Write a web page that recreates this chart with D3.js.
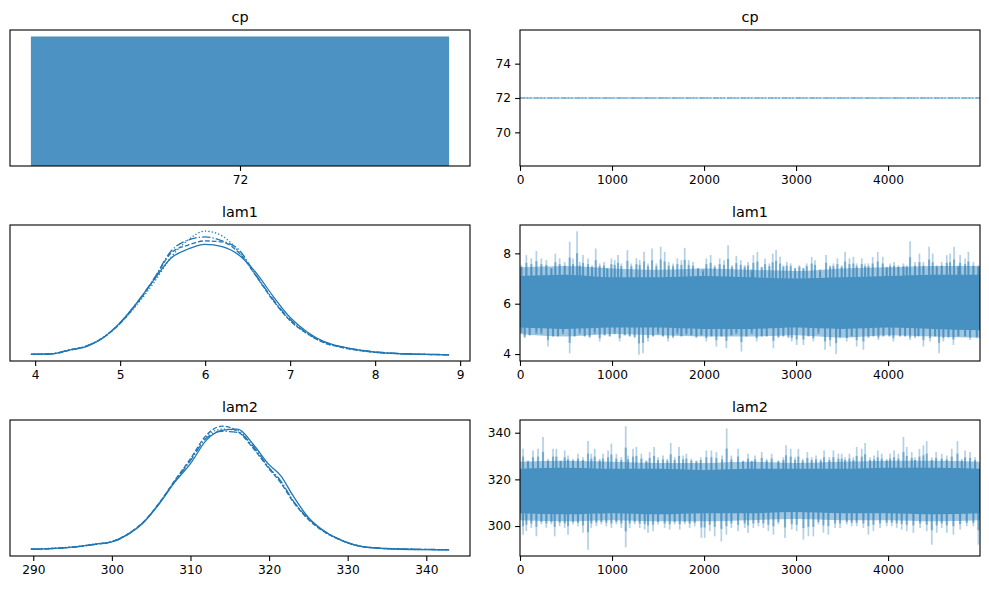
<!DOCTYPE html>
<html>
<head>
<meta charset="utf-8">
<script src="https://cdn.jsdelivr.net/npm/d3@7"></script>
<style>
body { margin: 0; background: #fff; }
text { font-family: "DejaVu Sans", sans-serif; }
</style>
</head>
<body>
<script>
// ---- values ----
var nDraws = 5000;
var coreStep = 500;

// cp: every draw of every chain is 72
var cpValue = 72;
var cpChains = [72, 72, 72, 72];
var cpHistTicks = [72];
var cpTraceTicks = [70, 72, 74];

// lam1 posterior densities (one per chain)
var lam1Grid = [3.95, 4.2, 4.4, 4.6, 4.8, 5.0, 5.2, 5.4, 5.6, 5.8, 6.0, 6.2, 6.4, 6.6, 6.8, 7.0, 7.2, 7.4, 7.6, 7.8, 8.0, 8.3, 8.6, 8.87];
var lam1Solid = [0.003, 0.006, 0.026, 0.045, 0.095, 0.179, 0.291, 0.418, 0.538, 0.588, 0.614, 0.601, 0.553, 0.455, 0.325, 0.207, 0.127, 0.073, 0.045, 0.028, 0.015, 0.006, 0.002, 0.000];
var lam1Dashed = [0.003, 0.006, 0.025, 0.048, 0.095, 0.174, 0.286, 0.420, 0.566, 0.610, 0.633, 0.627, 0.566, 0.437, 0.302, 0.190, 0.118, 0.067, 0.042, 0.025, 0.014, 0.006, 0.002, 0.000];
var lam1Dotted = [0.003, 0.007, 0.028, 0.048, 0.098, 0.174, 0.280, 0.403, 0.543, 0.638, 0.687, 0.661, 0.571, 0.437, 0.302, 0.190, 0.118, 0.067, 0.042, 0.025, 0.014, 0.006, 0.002, 0.000];
var lam1DashDot = [0.003, 0.006, 0.027, 0.048, 0.095, 0.179, 0.291, 0.426, 0.577, 0.638, 0.655, 0.633, 0.582, 0.442, 0.308, 0.196, 0.120, 0.070, 0.045, 0.028, 0.017, 0.007, 0.003, 0.001];
var lam1DensTicks = [4, 5, 6, 7, 8, 9];

// lam1 trace: tips of the visible upward / downward excursions (draw, value)
var lam1UpIt = [15, 69, 123, 178, 232, 286, 341, 384, 431, 486, 540, 576, 620, 649, 685, 739, 783, 823, 866, 913, 949, 993, 1029, 1065, 1101, 1167, 1210, 1265, 1301, 1348, 1391, 1435, 1482, 1529, 1572, 1616, 1663, 1710, 1754, 1790, 1833, 1880, 1935, 1989, 2025, 2072, 2116, 2170, 2217, 2261, 2304, 2351, 2399, 2442, 2478,
                2518, 2536, 2580, 2627, 2663, 2710, 2746, 2783, 2826, 2862, 2899, 2942, 2989, 3036, 3080, 3116, 3170, 3206, 3261, 3326, 3370, 3406, 3449, 3496, 3533, 3580, 3623, 3659, 3714, 3750, 3786, 3833, 3888, 3942, 3985, 4022, 4065, 4112, 4167, 4203, 4239, 4293, 4341, 4384, 4446, 4485, 4529, 4583, 4638, 4674, 4717, 4764, 4783, 4837, 4873, 4927, 4982];
var lam1UpV = [7.53, 7.93, 7.80, 8.09, 7.80, 7.73, 7.40, 7.99, 7.80, 7.66, 8.46, 7.80, 8.88, 7.66, 7.93, 7.80, 7.53, 8.19, 7.60, 7.66, 7.40, 7.80, 7.73, 7.93, 7.60, 8.13, 7.60, 7.80, 7.73, 8.06, 7.60, 8.19, 7.60, 8.26, 8.06, 7.66, 7.60, 7.80, 7.73, 8.22, 7.73, 7.66, 7.40, 7.27, 7.80, 7.93, 7.53, 7.80, 7.73, 8.32, 7.53, 7.90, 7.73, 7.53, 7.66,
               7.27, 7.93, 8.06, 7.47, 7.80, 7.60, 7.99, 8.13, 7.86, 7.53, 7.66, 7.60, 7.40, 7.53, 7.40, 7.60, 7.86, 7.73, 7.27, 7.93, 7.53, 7.60, 7.80, 7.53, 8.06, 7.80, 7.86, 7.60, 7.80, 7.60, 7.60, 7.86, 8.06, 7.86, 7.47, 7.60, 7.66, 7.53, 7.60, 7.53, 8.48, 7.66, 7.99, 7.66, 8.26, 7.99, 7.53, 7.66, 7.93, 7.99, 8.26, 7.53, 7.93, 7.80, 8.06, 7.66, 7.53];
var lam1DnIt = [15, 51, 105, 178, 232, 304, 359, 413, 467, 540, 594, 649, 703, 757, 812, 866, 920, 975, 1029, 1083, 1138, 1192, 1246, 1293, 1337, 1391, 1446, 1500, 1554, 1609, 1663, 1710, 1754, 1808, 1862, 1917, 1971, 2025, 2080, 2134, 2188, 2243, 2297, 2351, 2406, 2460,
                2518, 2572, 2627, 2681, 2754, 2808, 2862, 2917, 2953, 3007, 3080, 3134, 3188, 3243, 3315, 3370, 3435, 3478, 3551, 3605, 3659, 3732, 3786, 3841, 3895, 3949, 4014, 4058, 4130, 4185, 4239, 4293, 4330, 4384, 4456, 4511, 4554, 4601, 4656, 4710, 4764, 4837, 4891, 4964];
var lam1DnV = [5.02, 4.63, 4.76, 4.89, 4.89, 4.30, 4.69, 4.69, 4.89, 4.03, 4.69, 4.89, 4.69, 4.63, 4.89, 4.50, 4.76, 4.69, 4.89, 4.50, 4.76, 4.69, 4.63, 3.97, 4.03, 4.50, 4.69, 4.89, 4.69, 4.50, 4.63, 4.87, 4.69, 4.83, 4.76, 4.63, 4.76, 4.50, 4.69, 4.30, 4.69, 4.23, 4.76, 4.89, 4.10, 4.69,
               4.89, 4.50, 4.69, 4.69, 4.23, 4.63, 4.69, 4.63, 4.50, 4.36, 4.36, 4.69, 4.50, 4.89, 4.17, 4.30, 4.00, 4.63, 4.50, 4.69, 4.30, 4.17, 4.63, 4.69, 4.56, 4.69, 4.69, 4.50, 4.69, 4.69, 4.56, 4.63, 4.69, 4.30, 4.50, 4.69, 4.03, 4.50, 4.63, 4.36, 4.69, 4.69, 4.56, 4.63];
// edges of the dense band and of its lighter fringe, every 500 draws
var lam1CoreHi = [7.1, 7.15, 7.05, 7.05, 7.1, 7.05, 7.0, 7.05, 7.1, 7.15, 7.15];
var lam1CoreLo = [5.05, 5.0, 5.05, 5.05, 5.0, 5.0, 5.05, 5.0, 5.05, 5.0, 4.95];
var lam1FringeHi = [7.45, 7.5, 7.4, 7.35, 7.4, 7.35, 7.3, 7.4, 7.45, 7.5, 7.5];
var lam1FringeLo = [4.8, 4.7, 4.8, 4.75, 4.7, 4.7, 4.75, 4.65, 4.75, 4.7, 4.65];
var lam1TraceTicks = [4, 6, 8];

// lam2 posterior densities
var lam2Grid = [289.7, 292, 295, 298, 300, 302, 304, 306, 308, 310, 312, 314, 316, 318, 320, 321.5, 323, 325, 327, 329, 332, 336, 340, 342.9];
var lam2Solid = [0.0003, 0.0006, 0.0013, 0.0029, 0.0040, 0.0076, 0.0136, 0.0229, 0.0339, 0.0432, 0.0549, 0.0599, 0.0605, 0.0528, 0.0427, 0.0371, 0.0274, 0.0162, 0.0094, 0.0051, 0.0015, 0.0004, 0.0001, 0];
var lam2Dashed = [0.0003, 0.0005, 0.0013, 0.0028, 0.0041, 0.0079, 0.0140, 0.0234, 0.0348, 0.0457, 0.0574, 0.0620, 0.0594, 0.0508, 0.0406, 0.0335, 0.0244, 0.0152, 0.0091, 0.0051, 0.0016, 0.0005, 0.0002, 0.0001];
var lam2Dotted = [0.0003, 0.0007, 0.0015, 0.0030, 0.0042, 0.0079, 0.0137, 0.0234, 0.0345, 0.0452, 0.0569, 0.0605, 0.0599, 0.0513, 0.0411, 0.0340, 0.0249, 0.0155, 0.0091, 0.0050, 0.0015, 0.0004, 0.0001, 0];
var lam2DashDot = [0.0003, 0.0006, 0.0013, 0.0028, 0.0040, 0.0076, 0.0137, 0.0231, 0.0343, 0.0447, 0.0559, 0.0594, 0.0589, 0.0518, 0.0411, 0.0345, 0.0249, 0.0157, 0.0094, 0.0052, 0.0016, 0.0005, 0.0002, 0.0001];
var lam2DensTicks = [290, 300, 310, 320, 330, 340];

// lam2 trace tips
var lam2UpIt = [33, 87, 141, 196, 250, 304, 359, 395, 442, 486, 522, 576, 630, 685, 739, 775, 812, 866, 902, 957, 993, 1047, 1101, 1149, 1174, 1228, 1265, 1319, 1373, 1409, 1457, 1500, 1554, 1601, 1638, 1681, 1728, 1772, 1808, 1862, 1917, 1964, 2025, 2080, 2134, 2196, 2246, 2297, 2370, 2424, 2478,
                2518, 2554, 2627, 2681, 2735, 2808, 2862, 2891, 2942, 2989, 3025, 3072, 3123, 3170, 3217, 3268, 3304, 3362, 3406, 3460, 3496, 3533, 3580, 3623, 3659, 3714, 3750, 3804, 3848, 3888, 3931, 3985, 4022, 4065, 4112, 4167, 4203, 4257, 4293, 4341, 4384, 4420, 4475, 4522, 4583, 4638, 4692, 4754, 4801, 4837, 4891, 4946];
var lam2UpV = [333.1, 328.1, 332.4, 333.1, 338.2, 328.8, 333.1, 333.1, 328.1, 332.4, 330.2, 328.8, 331.0, 329.5, 336.4, 331.0, 333.1, 328.8, 331.0, 332.4, 335.3, 331.0, 329.5, 342.8, 330.2, 333.1, 333.9, 331.0, 328.1, 331.7, 333.9, 329.5, 330.2, 328.8, 335.6, 329.5, 333.9, 330.2, 331.0, 328.8, 328.1, 329.5, 332.4, 332.4, 331.7, 330.2, 341.8, 330.2, 333.1, 328.1, 331.0,
               328.1, 330.2, 331.7, 328.8, 331.0, 328.1, 329.5, 334.6, 333.1, 329.5, 333.1, 328.8, 331.7, 329.5, 330.2, 328.8, 332.4, 329.5, 332.4, 331.0, 331.0, 329.5, 331.0, 329.5, 333.9, 333.1, 335.6, 329.5, 330.2, 332.4, 331.0, 328.8, 331.0, 332.4, 331.0, 338.2, 333.9, 331.7, 329.5, 333.1, 334.6, 336.4, 329.5, 331.7, 331.0, 330.2, 333.1, 336.4, 328.8, 332.4, 331.7, 329.5];
var lam2DnIt = [33, 69, 123, 178, 232, 286, 341, 377, 431, 486, 522, 576, 630, 685, 739, 775, 830, 884, 938, 993, 1047, 1101, 1149, 1192, 1246, 1301, 1355, 1391, 1446, 1500, 1572, 1627, 1681, 1736, 1790, 1844, 1899, 1971, 2007, 2062, 2116, 2188, 2243, 2297, 2370, 2442, 2478,
                2536, 2591, 2645, 2699, 2754, 2808, 2880, 2953, 3007, 3080, 3134, 3188, 3243, 3297, 3351, 3424, 3478, 3551, 3605, 3659, 3732, 3786, 3841, 3913, 3985, 4040, 4094, 4148, 4203, 4275, 4348, 4420, 4475, 4529, 4583, 4638, 4710, 4783, 4855, 4927, 4982];
var lam2DnV = [296.3, 297.8, 299.2, 295.6, 300.7, 299.2, 300.7, 295.6, 299.9, 299.2, 296.3, 300.7, 299.9, 297.1, 289.8, 299.2, 299.9, 300.7, 299.9, 299.2, 300.7, 299.2, 290.8, 299.2, 300.7, 299.2, 298.5, 297.1, 297.8, 300.7, 299.2, 298.5, 300.7, 298.5, 300.7, 299.2, 299.9, 294.9, 294.9, 297.8, 295.6, 293.4, 296.3, 299.2, 297.8, 299.2, 297.1,
               299.2, 299.9, 299.2, 297.8, 296.3, 300.7, 294.9, 298.5, 297.8, 294.2, 295.6, 295.6, 300.7, 297.1, 296.3, 299.2, 299.2, 300.7, 299.9, 299.9, 299.2, 296.3, 297.8, 299.2, 299.9, 299.9, 299.2, 298.5, 297.8, 297.1, 299.2, 297.8, 292.0, 297.1, 299.2, 297.1, 296.3, 298.5, 299.9, 299.9, 292.0];
var lam2CoreHi = [324.5, 325, 324.5, 324.5, 324, 324.5, 324.5, 324.5, 325, 325, 324.5];
var lam2CoreLo = [305.5, 305, 305.5, 305, 305.5, 305.5, 306, 305.5, 305.5, 305, 305.5];
var lam2FringeHi = [327.5, 328, 327.5, 327, 327, 327.5, 327, 327.5, 328, 328, 327.5];
var lam2FringeLo = [302.5, 302, 302.5, 302, 302, 302.5, 303, 302.5, 302.5, 302, 302.5];
var lam2TraceTicks = [300, 320, 340];

var drawTicks = [0, 1000, 2000, 3000, 4000];

// ---- layout ----
var C0 = "#1f77b4";
var cols = [{x: 10, w: 460}, {x: 520, w: 460}];
var rows = [{y: 30, h: 136}, {y: 225, h: 136}, {y: 420, h: 136}];
var styles = [null, "4.8,2.1", "1.3,2.1", "8.3,2.1,1.3,2.1"];

var svg = d3.select("body").append("svg")
  .attr("width", 989).attr("height", 590);

function pad(ext) {
  var m = (ext[1] - ext[0]) * 0.05;
  return [ext[0] - m, ext[1] + m];
}

function makePanel(row, col, title, id) {
  var r = rows[row], c = cols[col];
  var g = svg.append("g").attr("transform", "translate(" + c.x + "," + r.y + ")");
  g.append("clipPath").attr("id", id).append("rect").attr("width", c.w).attr("height", r.h);
  var plot = g.append("g").attr("clip-path", "url(#" + id + ")");
  svg.append("text")
    .attr("x", c.x + c.w / 2).attr("y", r.y - 8)
    .attr("text-anchor", "middle")
    .style("font-size", "14.4px")
    .text(title);
  return {g: g, plot: plot, w: c.w, h: r.h};
}

function styleAxis(a) {
  a.select(".domain").remove();
  a.selectAll(".tick line").attr("stroke", "#000").attr("stroke-width", 1.1);
  a.selectAll(".tick text").attr("fill", "#000").style("font-size", "12.2px")
    .style("font-family", '"DejaVu Sans", sans-serif');
}

function finishPanel(p, x, xt, y, yt) {
  var ax = p.g.append("g").attr("transform", "translate(0," + p.h + ")")
    .call(d3.axisBottom(x).tickValues(xt).tickSize(4.9).tickPadding(4.2).tickFormat(d3.format("d")));
  styleAxis(ax);
  if (y) {
    var ay = p.g.append("g")
      .call(d3.axisLeft(y).tickValues(yt).tickSize(4.9).tickPadding(4.2).tickFormat(d3.format("d")));
    styleAxis(ay);
  }
  p.g.append("rect").attr("width", p.w).attr("height", p.h)
    .attr("fill", "none").attr("stroke", "#000").attr("stroke-width", 1.1);
}

// ---- density panels ----
function densityPanel(row, title, id, grid, chains, ticks) {
  var p = makePanel(row, 0, title, id);
  var x = d3.scaleLinear().domain(pad(d3.extent(grid))).range([0, p.w]);
  var ymax = d3.max(chains, function(c) { return d3.max(c); });
  var y = d3.scaleLinear().domain(pad([0, ymax])).range([p.h, 0]);
  var line = d3.line().curve(d3.curveMonotoneX)
    .x(function(d, i) { return x(grid[i]); })
    .y(function(d) { return y(d); });
  chains.forEach(function(c, k) {
    p.plot.append("path").datum(c).attr("d", line)
      .attr("fill", "none").attr("stroke", C0).attr("stroke-width", 1.3)
      .attr("stroke-dasharray", styles[k]);
  });
  finishPanel(p, x, ticks);
}

// ---- trace panels ----
function tracePanel(row, title, id, t, ticks) {
  var p = makePanel(row, 1, title, id);
  var x = d3.scaleLinear().domain([0, nDraws - 1]).range([0, p.w]);
  var y = d3.scaleLinear().domain(pad([d3.min(t.dnV), d3.max(t.upV)])).range([p.h, 0]);
  var steps = t.coreHi.map(function(d, i) { return i * coreStep; });
  var mid = (d3.mean(t.coreHi) + d3.mean(t.coreLo)) / 2;
  var fHi = d3.mean(t.fringeHi), fLo = d3.mean(t.fringeLo);

  var band = function(top, bot) {
    return d3.area().curve(d3.curveMonotoneX)
      .x(function(d, i) { return x(steps[i]); })
      .y0(function(d, i) { return y(bot[i]); })
      .y1(function(d, i) { return y(top[i]); });
  };
  p.plot.append("path").datum(t.fringeHi).attr("d", band(t.fringeHi, t.fringeLo))
    .attr("fill", C0).attr("fill-opacity", 0.42);

  var tips = t.upIt.map(function(d, i) { return {it: d, v: t.upV[i], e: fHi}; })
    .concat(t.dnIt.map(function(d, i) { return {it: d, v: t.dnV[i], e: fLo}; }));
  // light full excursion, then a darker inner part where chains overlap
  p.plot.selectAll(".spike").data(tips).enter().append("line")
    .attr("x1", function(d) { return x(d.it); })
    .attr("x2", function(d) { return x(d.it); })
    .attr("y1", y(mid))
    .attr("y2", function(d) { return y(d.v); })
    .attr("stroke", C0).attr("stroke-opacity", 0.34).attr("stroke-width", 1.7);
  p.plot.selectAll(".inner").data(tips).enter().append("line")
    .attr("x1", function(d) { return x(d.it); })
    .attr("x2", function(d) { return x(d.it); })
    .attr("y1", y(mid))
    .attr("y2", function(d) { return y(d.e + (d.v - d.e) * 0.4); })
    .attr("stroke", C0).attr("stroke-opacity", 0.45).attr("stroke-width", 2.2);

  p.plot.append("path").datum(t.coreHi).attr("d", band(t.coreHi, t.coreLo))
    .attr("fill", "#4790c2");
  finishPanel(p, x, drawTicks, y, ticks);
}

// cp histogram (bars sit on zero, no bottom margin)
(function() {
  var p = makePanel(0, 0, "cp", "c00");
  var x = d3.scaleLinear().domain(pad([cpValue - 0.5, cpValue + 0.5])).range([0, p.w]);
  var y = d3.scaleLinear().domain([0, 1.05]).range([p.h, 0]);
  p.plot.append("rect")
    .attr("x", x(cpValue - 0.5)).attr("width", x(cpValue + 0.5) - x(cpValue - 0.5))
    .attr("y", y(1)).attr("height", y(0) - y(1))
    .attr("fill", C0).attr("fill-opacity", 0.8);
  finishPanel(p, x, cpHistTicks);
})();

// cp trace
(function() {
  var p = makePanel(0, 1, "cp", "c01");
  var x = d3.scaleLinear().domain([0, nDraws - 1]).range([0, p.w]);
  var e = cpValue * 0.05;
  var y = d3.scaleLinear().domain(pad([cpValue - e, cpValue + e])).range([p.h, 0]);
  cpChains.forEach(function(v, k) {
    p.plot.append("line")
      .attr("x1", x(0)).attr("x2", x(nDraws - 1))
      .attr("y1", y(v)).attr("y2", y(v))
      .attr("stroke", C0).attr("stroke-opacity", 0.4).attr("stroke-width", 1.2)
      .attr("stroke-dasharray", styles[k]);
  });
  finishPanel(p, x, drawTicks, y, cpTraceTicks);
})();

densityPanel(1, "lam1", "c10", lam1Grid, [lam1Solid, lam1Dashed, lam1Dotted, lam1DashDot], lam1DensTicks);
tracePanel(1, "lam1", "c11", {upIt: lam1UpIt, upV: lam1UpV, dnIt: lam1DnIt, dnV: lam1DnV,
  coreHi: lam1CoreHi, coreLo: lam1CoreLo, fringeHi: lam1FringeHi, fringeLo: lam1FringeLo}, lam1TraceTicks);
densityPanel(2, "lam2", "c20", lam2Grid, [lam2Solid, lam2Dashed, lam2Dotted, lam2DashDot], lam2DensTicks);
tracePanel(2, "lam2", "c21", {upIt: lam2UpIt, upV: lam2UpV, dnIt: lam2DnIt, dnV: lam2DnV,
  coreHi: lam2CoreHi, coreLo: lam2CoreLo, fringeHi: lam2FringeHi, fringeLo: lam2FringeLo}, lam2TraceTicks);
</script>
</body>
</html>
